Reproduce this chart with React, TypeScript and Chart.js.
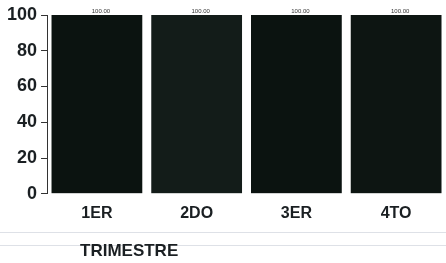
import React, { useEffect, useRef } from "react";
import { Chart, registerables } from "chart.js";

Chart.register(...registerables);

const categories = ["1ER", "2DO", "3ER", "4TO"];
const values = [100, 100, 100, 100];
const barColors = ["#0b1310", "#131c19", "#0b1310", "#0d1512"];
const axisTitle = "TRIMESTRE";

const overlay = {
  id: "overlay",
  afterDatasetsDraw(chart: any) {
    const ctx = chart.ctx;
    const meta = chart.getDatasetMeta(0);
    ctx.save();
    ctx.fillStyle = "#333";
    ctx.font = "6px Arial, 'Liberation Sans', sans-serif";
    ctx.textAlign = "center";
    ctx.textBaseline = "bottom";
    meta.data.forEach((el: any, i: number) => {
      ctx.fillText(values[i].toFixed(2), el.x + 4, el.y - 1);
    });
    // faint paper lines
    ctx.strokeStyle = "rgba(200,205,215,0.6)";
    ctx.lineWidth = 1;
    [232.5, 245.5].forEach((y) => {
      ctx.beginPath();
      ctx.moveTo(0, y);
      ctx.lineTo(chart.width, y);
      ctx.stroke();
    });
    ctx.fillStyle = "#1a1f22";
    ctx.font = "bold 17px Arial, 'Liberation Sans', sans-serif";
    ctx.textAlign = "left";
    ctx.textBaseline = "middle";
    ctx.fillText(axisTitle, 80, 251);
    ctx.restore();
  },
};

export default function App() {
  const ref = useRef<HTMLCanvasElement>(null);
  useEffect(() => {
    document.body.style.margin = "0";
    const chart = new Chart(ref.current as HTMLCanvasElement, {
      type: "bar",
      data: {
        labels: categories,
        datasets: [
          {
            data: values,
            backgroundColor: barColors,
            borderWidth: 0,
            barPercentage: 0.91,
            categoryPercentage: 1,
          },
        ],
      },
      options: {
        animation: false,
        responsive: false,
        maintainAspectRatio: false,
        layout: { padding: { left: 3, right: 0, top: 15, bottom: 30 } },
        plugins: { legend: { display: false }, tooltip: { enabled: false } },
        scales: {
          x: {
            grid: { display: false, drawTicks: false },
            border: { display: false },
            ticks: {
              color: "#1a1f22",
              padding: 10,
              font: { family: "Arial, 'Liberation Sans', sans-serif", size: 16, weight: "bold" },
            },
          },
          y: {
            min: 0,
            max: 100,
            ticks: {
              stepSize: 20,
              color: "#1a1f22",
              padding: 4,
              font: { family: "Arial, 'Liberation Sans', sans-serif", size: 18, weight: "bold" },
            },
            grid: { drawOnChartArea: false, tickLength: 6, color: "#333" },
            border: { display: true, color: "#333", width: 1 },
          },
        },
      },
      plugins: [overlay],
    });
    return () => chart.destroy();
  }, []);
  return (
    <div style={{ width: 446, height: 263, position: "relative" }}>
      <canvas ref={ref} width={446} height={263} style={{ display: "block" }} />
    </div>
  );
}
